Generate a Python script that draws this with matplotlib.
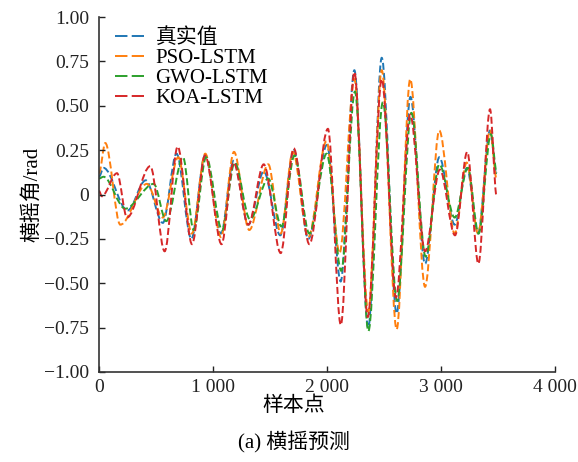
import matplotlib
matplotlib.use("Agg")
import matplotlib.pyplot as plt
from matplotlib.path import Path
from matplotlib.patches import PathPatch
from matplotlib.lines import Line2D

plt.rcParams['font.family'] = ['Liberation Serif', 'Noto Sans CJK SC']
plt.rcParams['axes.unicode_minus'] = True

# ---- data: turning points (sample index, roll angle / rad) ----
true_x = [0, 40, 250, 410, 560, 680, 810, 930, 1070, 1180, 1310, 1445, 1590, 1708, 1836, 2000,
          2120, 2240, 2362, 2480, 2611, 2732, 2860, 2985, 3120, 3228, 3325, 3430, 3490]
true_y = [0.10, 0.15, -0.09, 0.08, -0.16, 0.23, -0.25, 0.22, -0.22, 0.19, -0.17, 0.13, -0.23, 0.25,
          -0.25, 0.28, -0.49, 0.70, -0.75, 0.77, -0.67, 0.55, -0.39, 0.21, -0.17, 0.15, -0.22, 0.36, 0.10]

pso_x = [0, 55, 187, 420, 560, 695, 815, 932, 1070, 1184, 1318, 1485, 1594, 1700, 1836, 1995,
         2110, 2240, 2362, 2480, 2611, 2730, 2860, 2985, 3120, 3225, 3325, 3430, 3490]
pso_y = [0.12, 0.29, -0.17, 0.06, -0.13, 0.21, -0.22, 0.23, -0.24, 0.24, -0.20, 0.17, -0.22, 0.24,
         -0.24, 0.30, -0.33, 0.65, -0.66, 0.70, -0.76, 0.65, -0.52, 0.36, -0.22, 0.18, -0.22, 0.36, 0.08]

gwo_x = [0, 40, 230, 480, 590, 737, 830, 940, 1080, 1190, 1325, 1485, 1600, 1715, 1845, 1997,
         2125, 2245, 2363, 2490, 2615, 2740, 2865, 2985, 3120, 3235, 3330, 3438, 3490]
gwo_y = [0.09, 0.10, -0.08, 0.06, -0.15, 0.21, -0.20, 0.21, -0.20, 0.18, -0.14, 0.09, -0.18, 0.22,
         -0.22, 0.23, -0.43, 0.58, -0.77, 0.52, -0.60, 0.46, -0.35, 0.17, -0.13, 0.15, -0.22, 0.34, 0.12]

koa_x = [0, 25, 158, 246, 450, 576, 690, 816, 930, 1075, 1180, 1310, 1445, 1594, 1708, 1845, 2008,
         2121, 2240, 2358, 2480, 2605, 2730, 2860, 2990, 3123, 3230, 3328, 3430, 3488]
koa_y = [0.02, -0.01, 0.12, -0.13, 0.16, -0.32, 0.27, -0.28, 0.22, -0.28, 0.18, -0.17, 0.17, -0.33,
         0.26, -0.28, 0.37, -0.735, 0.69, -0.69, 0.65, -0.58, 0.45, -0.32, 0.14, -0.23, 0.24, -0.39,
         0.48, -0.01]

labels = ['真实值', 'PSO-LSTM', 'GWO-LSTM', 'KOA-LSTM']
colors = ['#1f77b4', '#ff7f0e', '#2ca02c', '#d62728']

x_ticks = [0, 1000, 2000, 3000, 4000]
x_tick_labels = ['0', '1 000', '2 000', '3 000', '4 000']
y_ticks = [-1.0, -0.75, -0.5, -0.25, 0.0, 0.25, 0.5, 0.75, 1.0]
y_tick_labels = ['\u22121.00', '\u22120.75', '\u22120.50', '\u22120.25', '0', '0.25', '0.50', '0.75', '1.00']


def smooth_path(xs, ys):
    verts = [(xs[0], ys[0])]
    codes = [Path.MOVETO]
    for i in range(len(xs) - 1):
        dx = xs[i + 1] - xs[i]
        verts += [(xs[i] + dx / 3, ys[i]), (xs[i + 1] - dx / 3, ys[i + 1]), (xs[i + 1], ys[i + 1])]
        codes += [Path.CURVE4] * 3
    return Path(verts, codes)


fig = plt.figure(figsize=(5.78, 4.62), dpi=100)
ax = fig.add_axes([99 / 578, 1 - 372 / 462, 456 / 578, 355 / 462])

series = [(true_x, true_y), (pso_x, pso_y), (gwo_x, gwo_y), (koa_x, koa_y)]
for (xs, ys), c in zip(series, colors):
    ax.add_patch(PathPatch(smooth_path(xs, ys), fill=False, edgecolor=c, lw=1.4,
                           linestyle=(0, (3.6, 1.6))))

ax.set_xlim(0, 4000)
ax.set_ylim(-1.0, 1.0)
ax.set_xticks(x_ticks)
ax.set_xticklabels(x_tick_labels)
ax.set_yticks(y_ticks)
ax.set_yticklabels(y_tick_labels)
ax.tick_params(direction='in', length=4, width=1, labelsize=14, colors='#222222')
ax.tick_params(axis='x', pad=5)
ax.tick_params(axis='y', pad=7)
for s in ['top', 'right']:
    ax.spines[s].set_visible(False)
for s in ['left', 'bottom']:
    ax.spines[s].set_color('#333333')
    ax.spines[s].set_linewidth(1.2)

handles = [Line2D([], [], color=c, lw=1.4, linestyle=(0, (6.4, 2.2))) for c in colors]
ax.legend(handles, labels, loc='upper left', bbox_to_anchor=(0.035, 0.968), frameon=False,
          fontsize=15, handlelength=1.4, handletextpad=0.55, labelspacing=0.02,
          borderpad=0, borderaxespad=0)

ax.set_ylabel('横摇角/rad', fontsize=15, labelpad=1)
fig.text(294 / 578, 1 - 406 / 462, '样本点', ha='center', va='center', fontsize=15)
fig.text(294 / 578, 1 - 442 / 462, '(a) 横摇预测', ha='center', va='center', fontsize=15)

fig.savefig('out.png', dpi=100)
